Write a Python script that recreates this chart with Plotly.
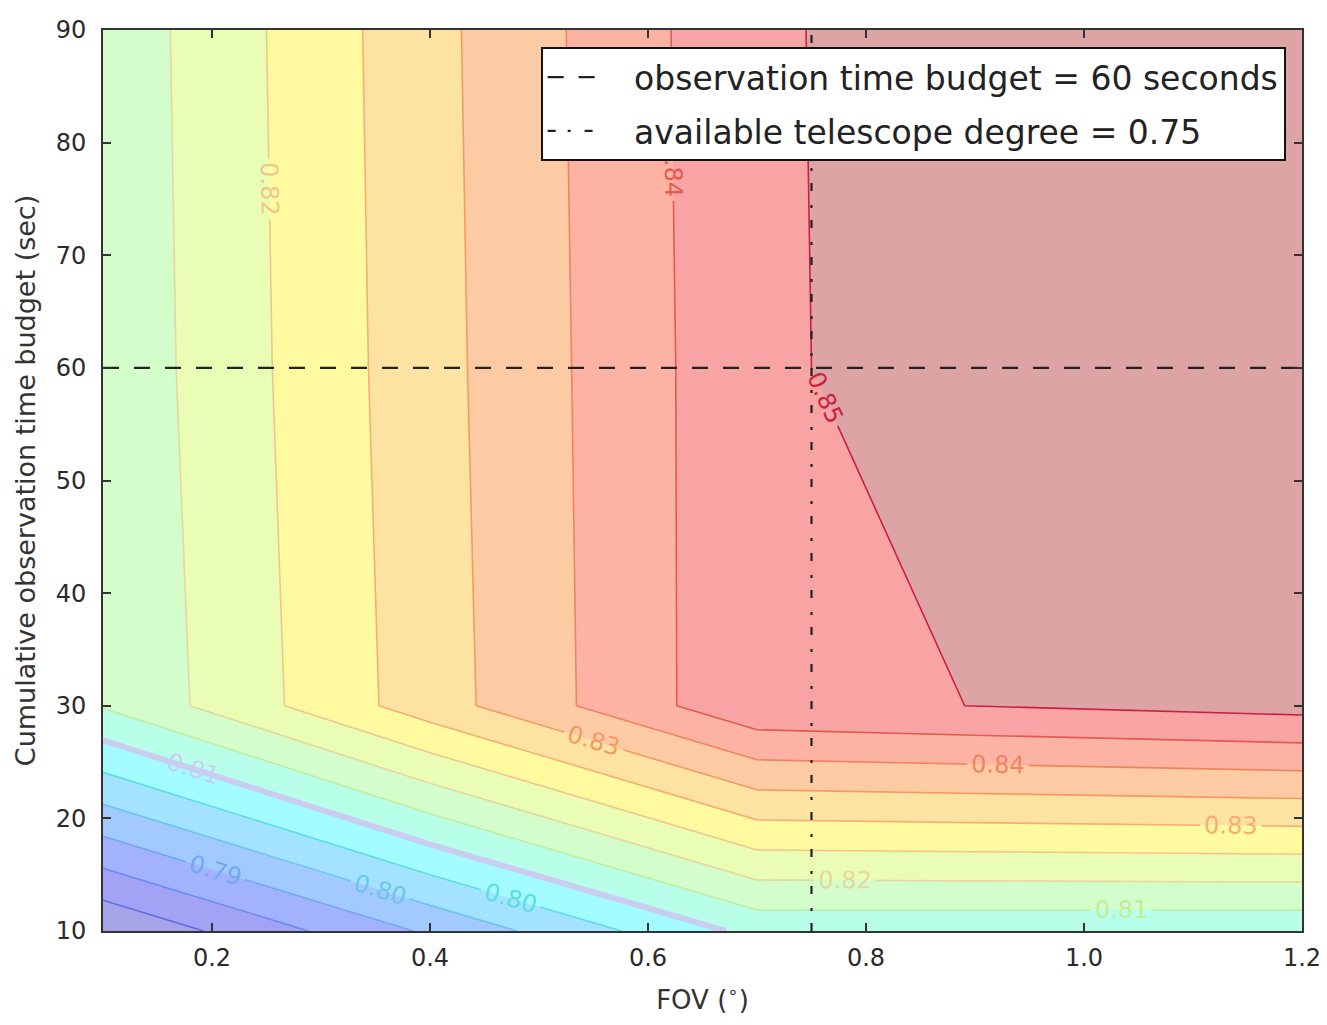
import plotly.graph_objects as go

# ---------------- data ----------------
FOV = [0.1, 0.4, 0.7, 0.9, 1.2]                 # x nodes (deg)
TIME = [10, 30, 60, 90]                          # y nodes (sec)
# score at each (TIME row, FOV column)
SCORE_T10 = [0.7752, 0.7908, 0.8065, 0.8064, 0.80622]
SCORE_T30 = [0.8104, 0.8277, 0.8440, 0.84505, 0.84666]
SCORE_T60 = [0.8112, 0.8282, 0.8439, 0.8483, 0.8490]
SCORE_T90 = [0.8115, 0.8285, 0.8441, 0.8481, 0.8490]

LEVEL_START = 0.78
LEVEL_END = 0.845
LEVEL_STEP = 0.005
HIGHLIGHT_LEVEL = 0.805

TIME_BUDGET = 60
TELESCOPE_DEG = 0.75

X_TICKS = [0.2, 0.4, 0.6, 0.8, 1.0, 1.2]
Y_TICKS = [10, 20, 30, 40, 50, 60, 70, 80, 90]

LEGEND_BUDGET = "observation time budget = 60 seconds"
LEGEND_DEG = "available telescope degree = 0.75"

# ---------------- styles ----------------
BAND_COLORS = ['#a6a3e6', '#a3a3f6', '#a3b2ff', '#a3caff', '#a3e3ff',
               '#a3fcff', '#b8ffea', '#d4fdcc', '#eafdb4', '#fdfaa0',
               '#fde3a2', '#fdcba3', '#fdb3a3', '#f9a4a4', '#dca4a4']
LINE_COLORS = ['#5a6ee8', '#6a8cf4', '#70a8f6', '#6cc4f2', '#5cdee0',
               '#c8cdf2', '#c2ec9e', '#e6d6a0', '#f4c48e', '#f6ae72',
               '#f49a62', '#ee8460', '#e25a50', '#cc2040']
FONT = "DejaVu Sans"
EPS = 1e-7
GAP = "\u00a0\u00a0\u00a0"

SCORE = [SCORE_T10, SCORE_T30, SCORE_T60, SCORE_T90]

nb = len(BAND_COLORS) - 1
fill_scale = [[j / nb, c] for j, c in enumerate(BAND_COLORS)]
nl = len(LINE_COLORS) - 1
line_scale = [[k / nl, c] for k, c in enumerate(LINE_COLORS)]

levels = dict(start=LEVEL_START + EPS, end=LEVEL_END + EPS, size=LEVEL_STEP)

fig = go.Figure()

fig.add_trace(go.Contour(
    x=FOV, y=TIME, z=SCORE,
    autocontour=False,
    contours=dict(**levels, coloring='fill', showlines=False),
    colorscale=fill_scale, showscale=False,
    line=dict(width=0, smoothing=0),
    hoverinfo='skip', showlegend=False,
))

fig.add_trace(go.Contour(
    x=FOV, y=TIME, z=SCORE,
    autocontour=False,
    contours=dict(start=HIGHLIGHT_LEVEL + EPS, end=HIGHLIGHT_LEVEL + EPS,
                  size=LEVEL_STEP, coloring='none'),
    line=dict(width=6, color='#c9cdf0', smoothing=0),
    showscale=False, hoverinfo='skip', showlegend=False,
))

fig.add_trace(go.Contour(
    x=FOV, y=TIME, z=SCORE,
    autocontour=False,
    contours=dict(**levels, coloring='lines', showlabels=True,
                  labelformat='.2f',
                  labelfont=dict(family=FONT, size=24)),
    colorscale=line_scale, showscale=False,
    line=dict(width=1.6, smoothing=0),
    hoverinfo='skip', showlegend=False,
))

fig.add_trace(go.Scatter(
    x=[min(FOV), max(FOV)], y=[TIME_BUDGET, TIME_BUDGET],
    mode='lines', name=GAP + LEGEND_BUDGET,
    line=dict(color='#222222', width=2.2, dash='16px,15px'),
    legendgroup='a', hoverinfo='skip',
))
fig.add_trace(go.Scatter(
    x=[TELESCOPE_DEG, TELESCOPE_DEG], y=[min(TIME), max(TIME)],
    mode='lines', name=GAP + LEGEND_DEG,
    line=dict(color='#222222', width=2.2, dash='8px,12px,3px,14px'),
    legendgroup='b', hoverinfo='skip',
))

axis_common = dict(
    showline=True, linecolor='#333333', linewidth=2, mirror='allticks',
    ticks='inside', ticklen=8, tickwidth=1.5, tickcolor='#333333',
    showgrid=False, zeroline=False, automargin=False,
    ticklabeloverflow='allow',
    tickfont=dict(family=FONT, size=24, color='#2a2a2a'),
)

fig.update_layout(
    width=1315, height=1009,
    margin=dict(l=95, r=21, t=22, b=86),
    paper_bgcolor='white', plot_bgcolor='white',
    font=dict(family=FONT, color='#333333'),
    xaxis=dict(range=[min(FOV), max(FOV)], tickvals=X_TICKS,
               tickformat='.1f', ticklabelstandoff=4,
               title=dict(text='FOV (<sup>∘</sup>)', standoff=20,
                          font=dict(family=FONT, size=26, color='#333333')),
               **axis_common),
    yaxis=dict(range=[min(TIME), max(TIME)], tickvals=Y_TICKS,
               ticklabelstandoff=10,
               title=dict(text='Cumulative observation time budget (sec)',
                          standoff=12,
                          font=dict(family=FONT, size=27, color='#333333')),
               **axis_common),
    legend=dict(x=0.365, y=0.981, xanchor='left', yanchor='top',
                bgcolor='white', bordercolor='#111111', borderwidth=2,
                font=dict(family=FONT, size=33, color='#222222'),
                itemwidth=50, traceorder='grouped', tracegroupgap=8),
    showlegend=True,
)

fig.write_html("out.html")
